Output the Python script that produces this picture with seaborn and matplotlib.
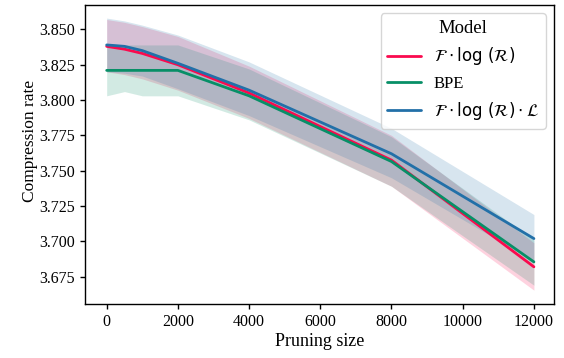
import matplotlib
matplotlib.use("Agg")
import matplotlib.pyplot as plt
import seaborn as sns
import pandas as pd

pruning = [0, 500, 1000, 2000, 4000, 8000, 12000]

red_mean = [3.838, 3.836, 3.833, 3.825, 3.805, 3.7575, 3.682]
red_upper = [3.857, 3.855, 3.852, 3.845, 3.824, 3.775, 3.699]
red_lower = [3.820, 3.818, 3.815, 3.807, 3.787, 3.739, 3.6655]

bpe_mean = [3.821, 3.821, 3.821, 3.821, 3.803, 3.7565, 3.6855]
bpe_upper = [3.840, 3.839, 3.839, 3.839, 3.822, 3.774, 3.701]
bpe_lower = [3.803, 3.806, 3.803, 3.803, 3.786, 3.739, 3.669]

blue_mean = [3.839, 3.838, 3.835, 3.826, 3.807, 3.762, 3.702]
blue_upper = [3.858, 3.856, 3.853, 3.846, 3.827, 3.780, 3.719]
blue_lower = [3.820, 3.819, 3.817, 3.808, 3.789, 3.745, 3.686]

labels = [r"$\mathcal{F}\cdot\log\,(\mathcal{R})$", "BPE",
          r"$\mathcal{F}\cdot\log\,(\mathcal{R})\cdot\mathcal{L}$"]
colors = ["#fa0a4e", "#078f67", "#2270a8"]

means = [red_mean, bpe_mean, blue_mean]
uppers = [red_upper, bpe_upper, blue_upper]
lowers = [red_lower, bpe_lower, blue_lower]

rows = []
for lab, m in zip(labels, means):
    for x, v in zip(pruning, m):
        rows.append({"Pruning size": x, "Compression rate": v, "Model": lab})
df = pd.DataFrame(rows)

sns.set_style("ticks", {"axes.edgecolor": "black", "xtick.color": "black",
                        "ytick.color": "black", "text.color": "black",
                        "axes.labelcolor": "black"})
plt.rcParams["font.family"] = ["Liberation Serif", "DejaVu Serif"]
plt.rcParams["font.size"] = 11
plt.rcParams["axes.linewidth"] = 1.0

fig = plt.figure(figsize=(5.64, 3.58), dpi=100)
ax = fig.add_axes([0.1507, 0.1508, 0.8316, 0.835])

for lab, c, lo, hi in zip(labels, colors, lowers, uppers):
    ax.fill_between(pruning, lo, hi, color=c, alpha=0.18, linewidth=0)

sns.lineplot(data=df, x="Pruning size", y="Compression rate", hue="Model",
             hue_order=labels, palette=colors, linewidth=2.0, ax=ax)

ax.set_xlim(-609, 12565)
ax.set_ylim(3.6557, 3.8672)
ax.set_xticks([0, 2000, 4000, 6000, 8000, 10000, 12000])
ax.set_yticks([3.675, 3.700, 3.725, 3.750, 3.775, 3.800, 3.825, 3.850])
ax.set_yticklabels([f"{v:.3f}" for v in ax.get_yticks()])
ax.tick_params(labelsize=11.5, color="black", width=1.0)
ax.set_xlabel("Pruning size", fontsize=13, labelpad=2)
ax.set_ylabel("Compression rate", fontsize=12.5)
ax.yaxis.set_label_coords(-0.10, 0.545)

leg = ax.legend(title="Model", loc="upper right", fontsize=12, title_fontsize=13.5,
                framealpha=0.8, handlelength=2.0)

fig.savefig("out.png", dpi=100)
